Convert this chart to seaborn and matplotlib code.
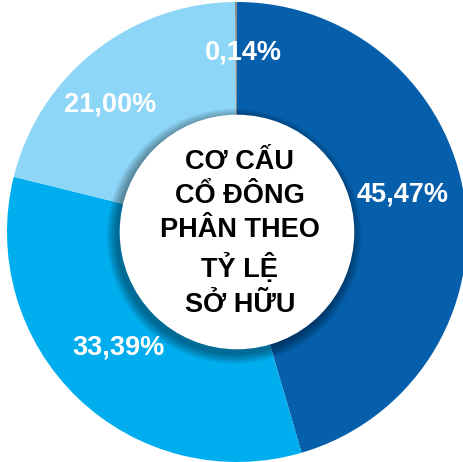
import matplotlib
matplotlib.use("Agg")
import matplotlib.pyplot as plt
import seaborn as sns
import numpy as np
from matplotlib.patches import Circle

# data
shares = [45.47, 33.39, 21.00, 0.14]
labels = ["45,47%", "33,39%", "21,00%", "0,14%"]
colors = ["#065FAB", "#00ADEE", "#8DD6F7", "#8C8C8C"]
center_text = "CƠ CẤU\nCỔ ĐÔNG\nPHÂN THEO\nTỶ LỆ\nSỞ HỮU"

# label placement (radius, angle in degrees)
label_pos = [(0.74, 12.6), (0.72, 224.3), (0.78, 134.8), (0.78, 88.0)]

sns.set_theme(style="white")
plt.rcParams["font.family"] = ["Liberation Sans", "DejaVu Sans"]

fig = plt.figure(figsize=(4.63, 4.62), dpi=100)
ax = fig.add_axes([0, 0, 1, 1])

ax.pie(shares, colors=colors, startangle=90, counterclock=False, radius=1.0,
       wedgeprops=dict(linewidth=0))

# soft shadow behind the centre disc
for i in range(12):
    r = 0.51 + 0.045 * (1 - i / 12)
    ax.add_patch(Circle((-0.012, -0.018), r, color="black", alpha=0.035, lw=0, zorder=3))
ax.add_patch(Circle((0, 0), 0.51, color="white", lw=0, zorder=4))

ax.text(0.012, -0.005, center_text, ha="center", va="center", fontsize=19.5,
        fontweight="bold", color="black", linespacing=1.42, zorder=5)

for lab, (r, a) in zip(labels, label_pos):
    t = np.deg2rad(a)
    ax.text(r * np.cos(t), r * np.sin(t), lab, ha="center", va="center",
            fontsize=19.5, fontweight="bold", color="white", zorder=6)

ax.set_xlim(-237 / 230, 226 / 230)
ax.set_ylim(-230 / 230, 232 / 230)
ax.set_aspect("auto")
ax.axis("off")

fig.savefig("out.png", dpi=100)
